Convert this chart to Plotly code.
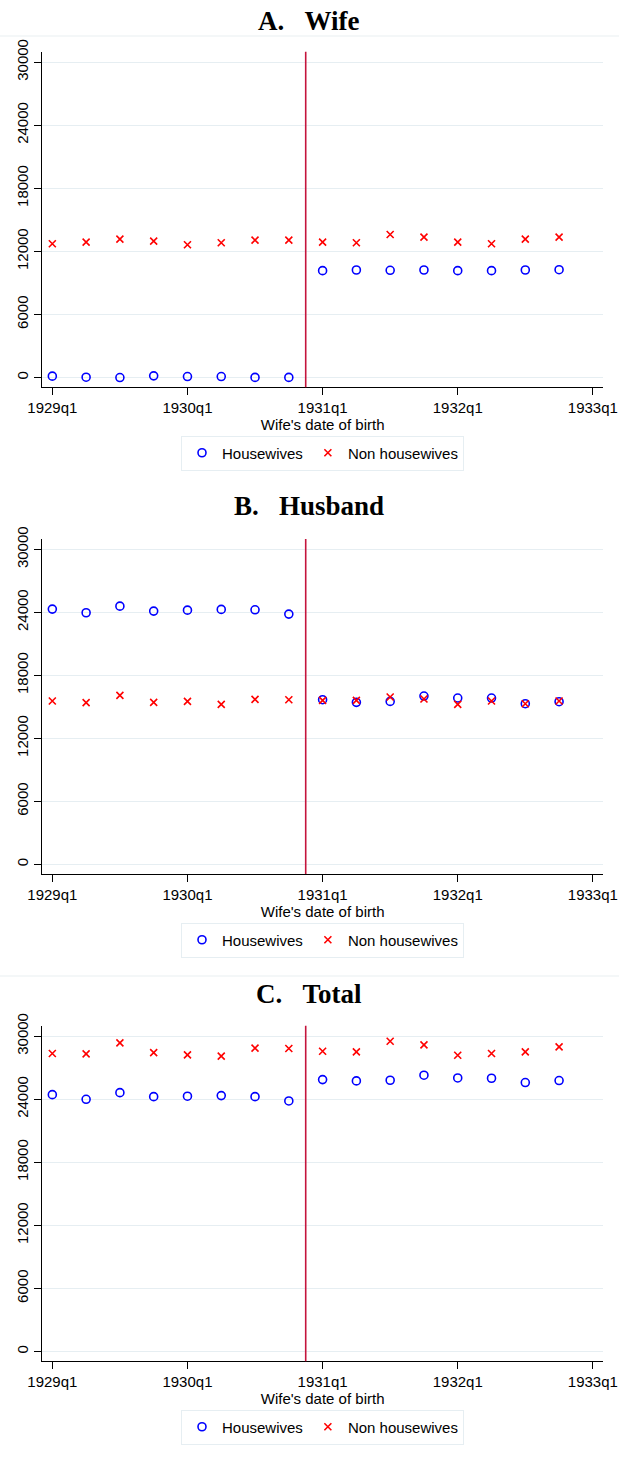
import plotly.graph_objects as go

quarters = list(range(16))
tick_vals = [0, 4, 8, 12, 16]
tick_text = ["1929q1", "1930q1", "1931q1", "1932q1", "1933q1"]
y_ticks = [0, 6000, 12000, 18000, 24000, 30000]
y_tick_text = ["0", "6000", "12000", "18000", "24000", "30000"]
cutoff = 7.5

panel_titles = ["A.\u00a0\u00a0\u00a0Wife", "B.\u00a0\u00a0\u00a0Husband", "C.\u00a0\u00a0\u00a0Total"]

wife_house = [130, 30, 0, 160, 95, 95, 10, 10,
              10170, 10230, 10200, 10230, 10170, 10170, 10230, 10260]
wife_non = [12730, 12880, 13170, 12980, 12630, 12820, 13070, 13070,
            12880, 12820, 13610, 13360, 12880, 12730, 13170, 13360]

husb_house = [24320, 23970, 24600, 24130, 24220, 24290, 24250, 23840,
              15680, 15430, 15520, 16030, 15840, 15840, 15300, 15490]
husb_non = [15560, 15400, 16090, 15430, 15520, 15240, 15710, 15680,
            15620, 15620, 15940, 15750, 15240, 15560, 15300, 15560]

tot_house = [24440, 24000, 24630, 24250, 24290, 24350, 24250, 23840,
             25870, 25750, 25810, 26290, 26030, 26000, 25590, 25780]
tot_non = [28350, 28320, 29370, 28440, 28220, 28100, 28860, 28830,
           28570, 28510, 29520, 29180, 28190, 28350, 28510, 28980]

panels = [(wife_house, wife_non), (husb_house, husb_non), (tot_house, tot_non)]

W, H = 619, 1457

def px_x(p):
    return p / W

def px_y(p):
    return (H - p) / H

# page-pixel geometry of each plot area (top, bottom)
plot_tb = [(51.7, 387.3), (539.0, 874.0), (1025.7, 1361.3)]
title_y = [21, 506, 994]
legend_y = [453, 940, 1427]
x_left, x_right = 42.2, 603.0

fig = go.Figure()
font_sans = "Liberation Sans, Arial, sans-serif"
grid_col = "#E6EEF2"

for i, (hv, nv) in enumerate(panels):
    n = i + 1
    xa = "x" if n == 1 else f"x{n}"
    ya = "y" if n == 1 else f"y{n}"
    lg = "legend" if n == 1 else f"legend{n}"
    fig.add_trace(go.Scatter(
        x=quarters, y=hv, mode="markers", name="Housewives",
        xaxis=xa, yaxis=ya, legend=lg,
        marker=dict(symbol="circle-open", size=8, color="#0000FF",
                    line=dict(width=1.6, color="#0000FF")),
    ))
    fig.add_trace(go.Scatter(
        x=quarters, y=nv, mode="markers", name="Non housewives",
        xaxis=xa, yaxis=ya, legend=lg,
        marker=dict(symbol="x-thin-open", size=7, color="#FF0000",
                    line=dict(width=1.6, color="#FF0000")),
    ))
    top, bot = plot_tb[i]
    dom_y = [px_y(bot), px_y(top)]
    dom_x = [px_x(x_left), px_x(x_right)]
    xkey = "xaxis" if n == 1 else f"xaxis{n}"
    ykey = "yaxis" if n == 1 else f"yaxis{n}"
    fig.update_layout(**{
        xkey: dict(
            domain=dom_x, anchor=ya, range=[-0.3, 16.3], automargin=False,
            tickvals=tick_vals, ticktext=tick_text,
            ticks="outside", ticklen=7, tickwidth=1, tickcolor="black",
            showline=True, linecolor="black", linewidth=1.3,
            showgrid=False, zeroline=False,
            tickfont=dict(family=font_sans, size=15, color="black"),
            title=dict(text="Wife's date of birth", standoff=0,
                       font=dict(family=font_sans, size=15, color="black")),
        ),
        ykey: dict(
            domain=dom_y, anchor=xa, range=[-930, 31000], automargin=False,
            tickvals=y_ticks, ticktext=y_tick_text, tickangle=-90,
            ticks="outside", ticklen=7, tickwidth=1, tickcolor="black",
            showline=True, linecolor="black", linewidth=1.3,
            showgrid=True, gridcolor=grid_col, gridwidth=1.2,
            zeroline=False,
            tickfont=dict(family=font_sans, size=15, color="black"),
        ),
        lg: dict(
            orientation="h", x=px_x(322.5), xanchor="center",
            y=px_y(legend_y[i]), yanchor="middle",
            bordercolor="#E6EEF2", borderwidth=1, bgcolor="white",
            font=dict(family=font_sans, size=15, color="black"),
            itemwidth=30, tracegroupgap=0,
        ),
    })
    fig.add_shape(type="line", xref=xa, yref=f"{ya} domain",
                  x0=cutoff, x1=cutoff, y0=0, y1=1,
                  line=dict(color="#C4143C", width=1.6))
    fig.add_annotation(text=f"<b>{panel_titles[i]}</b>", xref="paper", yref="paper",
                       x=px_x(308.5), y=px_y(title_y[i]), xanchor="center", yanchor="middle",
                       showarrow=False,
                       font=dict(family="Liberation Serif, Times New Roman, serif", size=27, color="black"))

# faint panel separators
for yy in [36, 976]:
    fig.add_shape(type="line", xref="paper", yref="paper", x0=0, x1=1,
                  y0=px_y(yy), y1=px_y(yy),
                  line=dict(color="#F0F4F6", width=1.5))

fig.update_layout(
    width=W, height=H, margin=dict(l=0, r=0, t=0, b=0, autoexpand=False),
    paper_bgcolor="white", plot_bgcolor="white",
    showlegend=True,
)

fig.write_html(
    "out.html",
    config={"displayModeBar": False},
    post_script="document.body.style.margin='0';document.body.style.overflow='hidden';",
)
